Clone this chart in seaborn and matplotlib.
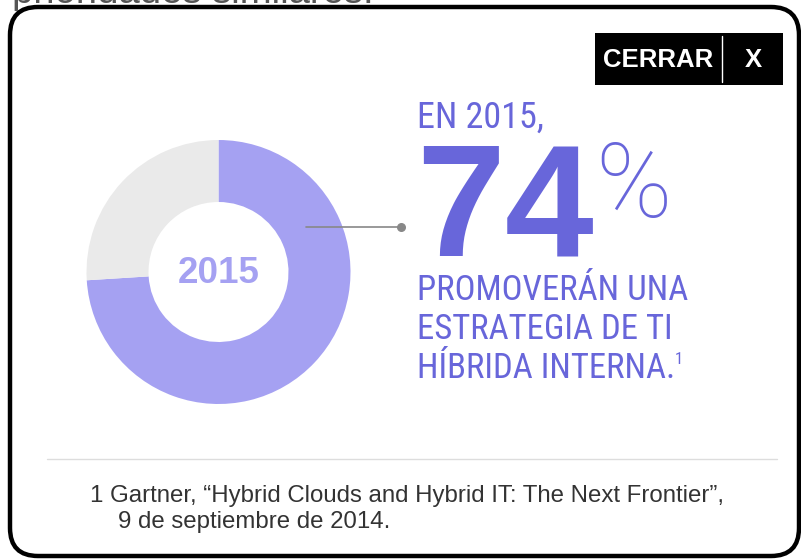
import matplotlib
matplotlib.use("Agg")
import matplotlib.pyplot as plt
import seaborn as sns
from matplotlib.patches import FancyBboxPatch, Rectangle

# Chart data
slice_labels = ["2015", "Otros"]
slice_values = [74, 26]
slice_colors = ["#A5A1F2", "#EAEAEA"]

headline_year = "EN 2015,"
headline_value = "74"
body_lines = ["PROMOVERÁN UNA", "ESTRATEGIA DE TI", "HÍBRIDA INTERNA."]
footnote_lines = ["1 Gartner, “Hybrid Clouds and Hybrid IT: The Next Frontier”,",
                  "9 de septiembre de 2014."]

sns.set_theme(style="white")
plt.rcParams['font.family'] = ['Liberation Sans', 'DejaVu Sans']
narrow = ['Roboto Condensed', 'Archivo Narrow', 'Liberation Sans', 'DejaVu Sans']
purple = "#6866DA"

W, H = 801, 560
fig = plt.figure(figsize=(W / 100, H / 100), dpi=100)
fig.patch.set_facecolor("white")

# Donut in its own axes (pixel geometry: center 218,272 outer r 132)
cx, cy, r_out, r_in = 218.5, 272, 132, 70
ax_pie = fig.add_axes([(cx - r_out) / W, (H - cy - r_out) / H, 2 * r_out / W, 2 * r_out / H])
ax_pie.pie(slice_values, colors=slice_colors, startangle=90, counterclock=False,
           radius=1, wedgeprops=dict(width=(r_out - r_in) / r_out, linewidth=0))
ax_pie.set_xlim(-1, 1)
ax_pie.set_ylim(-1, 1)
ax_pie.axis('off')
ax_pie.text(0, -0.01, slice_labels[0], ha='center', va='center', fontsize=26.5,
            fontweight='bold', color=slice_colors[0])

# Overlay axes in pixel coordinates
ax = fig.add_axes([0, 0, 1, 1], zorder=2)
ax.set_xlim(0, W)
ax.set_ylim(H, 0)
ax.axis('off')
ax.patch.set_alpha(0)

# text cut off above the card
ax.text(12, 3, "prioridades similares.", fontsize=27.5, color="#555555",
        va='baseline', ha='left')

# card border
card = FancyBboxPatch((10, 7), 789, 549, boxstyle="round,pad=0,rounding_size=28",
                      facecolor='none', edgecolor='black', linewidth=3.2)
ax.add_patch(card)

# close button
ax.add_patch(Rectangle((595, 33), 188, 52, facecolor='black', edgecolor='none'))
ax.plot([722, 722], [36, 82], color='white', linewidth=1)
ax.text(603, 67, "CERRAR", fontsize=18.5, fontweight='bold', color='white',
        va='baseline', ha='left')
ax.text(753, 67, "X", fontsize=18.5, fontweight='bold', color='white',
        va='baseline', ha='center')

# connector
ax.plot([306, 400], [227, 227], color='#888888', linewidth=1.2)
ax.scatter([401], [227], s=30, color='#888888', zorder=3)

# headline
ax.text(417, 128, headline_year, fontsize=26, color=purple, family=narrow,
        va='baseline', ha='left')
ax.text(416, 255, headline_value, fontsize=115, fontweight='bold', color=purple,
        va='baseline', ha='left')
ax.text(595, 217, "%", fontsize=74, color=purple, fontweight='light',
        family=['Roboto', 'Liberation Sans', 'DejaVu Sans'],
        va='baseline', ha='left')

body = []
for i, line in enumerate(body_lines):
    body.append(ax.text(417, 300 + i * 39, line, fontsize=25, color=purple, family=narrow,
                        va='baseline', ha='left'))

# superscript placed right after the last body line
fig.canvas.draw()
ext = body[-1].get_window_extent(renderer=fig.canvas.get_renderer())
ax.text(ext.x1 - 1, 364, "1", fontsize=12, color=purple, family=narrow,
        va='baseline', ha='left')

# separator + footnote
ax.plot([47, 777], [459, 459], color='#DDDDDD', linewidth=1)
ax.text(90, 502, footnote_lines[0], fontsize=17.3, color='#333333',
        va='baseline', ha='left')
ax.text(118, 528, footnote_lines[1], fontsize=17.3, color='#333333',
        va='baseline', ha='left')

fig.savefig("out.png", dpi=100, facecolor="white")
